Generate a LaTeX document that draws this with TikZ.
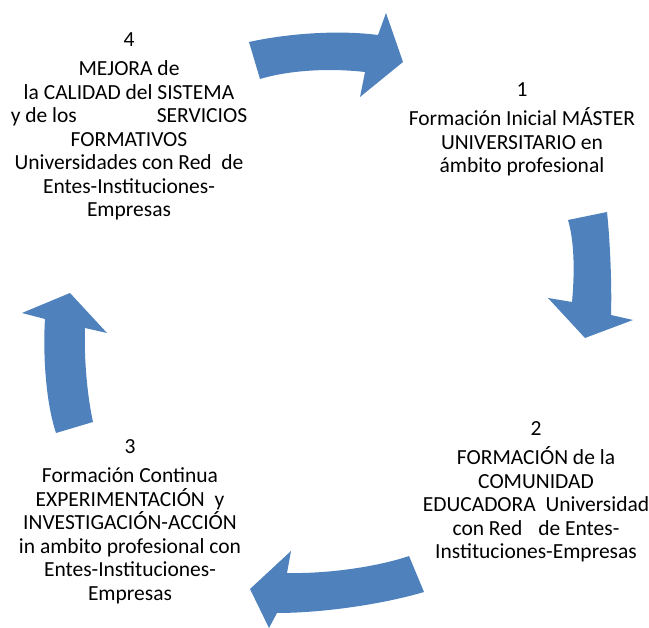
\documentclass[tikz,border=0pt]{standalone}
\usepackage{fontspec}
\setmainfont{Carlito}
\definecolor{cycleblue}{RGB}{79,129,189}
\tikzset{
  stage/.style={align=center, inner sep=0pt, anchor=north,
    font=\fontsize{21.5}{23.5}\selectfont},
  cyclearrow/.style={fill=cycleblue, draw=none}
}
\begin{document}
\begin{tikzpicture}[x=1pt, y=-1pt]
  \useasboundingbox (0,0) rectangle (649,628);
  % stages of the cycle
  \node[stage] (inicial) at (522,82) {1\\[6pt] Formación Inicial MÁSTER\\ UNIVERSITARIO en\\ ámbito profesional};
  \node[stage] (comunidad) at (536,421) {2\\[6pt] FORMACIÓN de la\\ COMUNIDAD\\ EDUCADORA\ \ Universidad\\ con Red\hspace{16pt}de Entes-\\ Instituciones-Empresas};
  \node[stage] (continua) at (130,439) {3\\[6pt] Formación Continua\\ EXPERIMENTACIÓN\ \ y\\ INVESTIGACIÓN-ACCIÓN\\ in ambito profesional con\\ Entes-Instituciones-\\ Empresas};
  \node[stage] (mejora) at (129,32) {4\\[6pt] MEJORA de\\ la CALIDAD del SISTEMA\\ y de los\hspace{80pt}SERVICIOS\\ FORMATIVOS\\ Universidades con Red\ \ de\\ Entes-Instituciones-\\ Empresas};
  % arrows between stages
  \fill[cyclearrow] (249,42) .. controls (290,33) and (340,30) .. (378,35)
    -- (386,13) -- (403,62) -- (360,97) -- (365,72)
    .. controls (330,68) and (290,70) .. (260,79) -- cycle;
  \fill[cyclearrow] (568,220) -- (607,212) .. controls (610,240) and (612,285) .. (611,315)
    -- (633,320) -- (585,338) -- (548,298) -- (572,302)
    .. controls (575,270) and (574,240) .. cycle;
  \fill[cyclearrow] (409,556) -- (424,592) .. controls (380,605) and (320,613) .. (277,613)
    -- (269,628) -- (250,589) -- (291,551) -- (287,573)
    .. controls (330,574) and (380,566) .. cycle;
  \fill[cyclearrow] (56,433) -- (93,422) .. controls (86,390) and (84,350) .. (85,328)
    -- (107,333) -- (70,293) -- (22,313) -- (45,319)
    .. controls (43,350) and (45,400) .. cycle;
\end{tikzpicture}
\end{document}
